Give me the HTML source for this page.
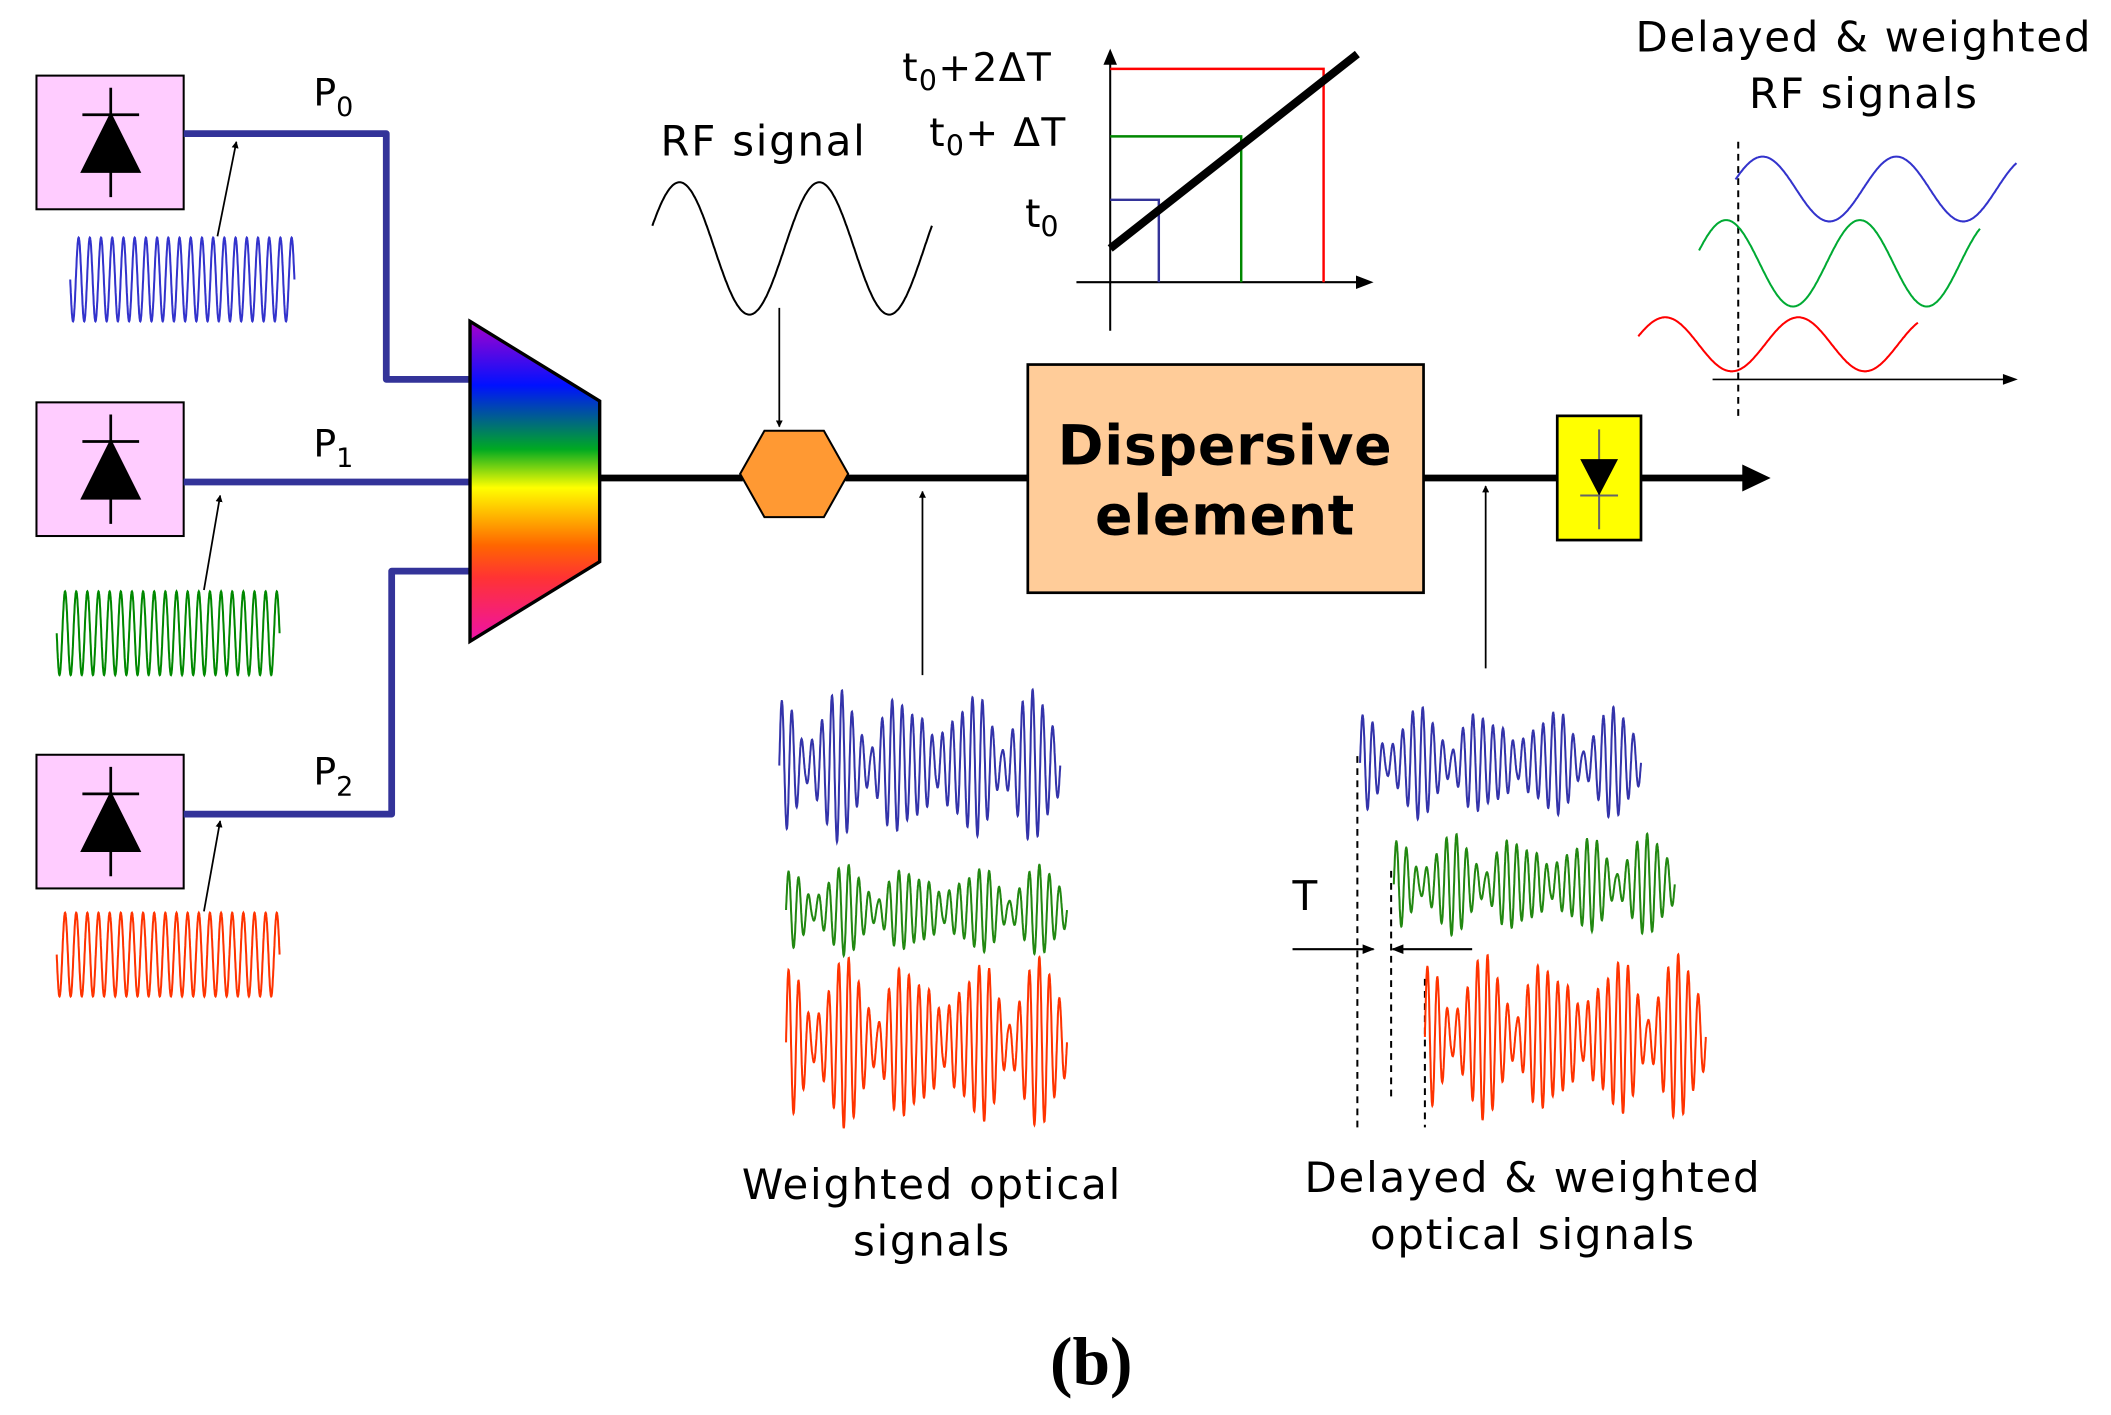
<!DOCTYPE html>
<html><head><meta charset="utf-8"><style>
html,body{margin:0;padding:0;background:#fff;}
svg{display:block;}
text{font-family:"DejaVu Sans","Liberation Sans",sans-serif;}
.l{font-size:31px;letter-spacing:1.3px;}
</style></head><body>
<svg id="s" width="2111" height="1415" viewBox="0 0 1563 1048" preserveAspectRatio="none" xmlns="http://www.w3.org/2000/svg">
<defs>
<linearGradient id="rb" x1="0" y1="0" x2="0" y2="1">
<stop offset="0" stop-color="#aa00cc"/><stop offset="0.2" stop-color="#0011ff"/><stop offset="0.4" stop-color="#00aa22"/><stop offset="0.52" stop-color="#ffff00"/><stop offset="0.7" stop-color="#ff6600"/><stop offset="0.8" stop-color="#ff3333"/><stop offset="1" stop-color="#ee11aa"/>
</linearGradient>
<marker id="ah" viewBox="0 0 10 10" refX="9" refY="5" markerWidth="6" markerHeight="6" orient="auto"><path d="M0,1 L10,5 L0,9 z" fill="#000"/></marker>
<marker id="ah2" viewBox="0 0 10 10" refX="9" refY="5" markerWidth="4" markerHeight="4" orient="auto"><path d="M0,0 L10,5 L0,10 z" fill="#000"/></marker>
</defs>
<rect width="1563" height="1048" fill="#fff"/>
<g stroke="#000" stroke-width="1.5">
<rect x="27" y="56" width="109" height="99" fill="#ffccff"/>
<rect x="27" y="298" width="109" height="99" fill="#ffccff"/>
<rect x="27" y="559" width="109" height="99" fill="#ffccff"/>
</g>
<g id="diodes" stroke="#000" stroke-width="2"></g>
<g stroke="#333399" stroke-width="5" fill="none" stroke-linejoin="round">
<polyline points="136,99 286,99 286,281 348,281"/>
<line x1="136" y1="357" x2="348" y2="357"/>
<polyline points="136,603 290,603 290,423 348,423"/>
</g>
<text x="232" y="78" font-size="28">P<tspan font-size="20" dy="8">0</tspan></text>
<text x="232" y="338" font-size="28">P<tspan font-size="20" dy="8">1</tspan></text>
<text x="232" y="581" font-size="28">P<tspan font-size="20" dy="8">2</tspan></text>
<g stroke="#000" stroke-width="1.3" marker-end="url(#ah2)">
<line x1="161" y1="175" x2="175" y2="105"/>
<line x1="151" y1="437" x2="163" y2="367"/>
<line x1="151" y1="675" x2="163" y2="608"/>
</g>
<polygon points="348,238 444,297 444,416 348,475" fill="url(#rb)" stroke="#000" stroke-width="2.5"/>
<g stroke="#000" stroke-width="5">
<line x1="444" y1="354" x2="550" y2="354"/>
<line x1="626" y1="354" x2="762" y2="354"/>
<line x1="1054" y1="354" x2="1153" y2="354"/>
</g>
<polygon points="548,351 566,319 610,319 628,351 610,383 566,383" fill="#ff9933" stroke="#000" stroke-width="1.5"/>
<text x="489" y="115" class="l">RF signal</text>
<path id="rf" fill="none" stroke="#000" stroke-width="1.5"/>
<line x1="577" y1="228" x2="577" y2="316" stroke="#000" stroke-width="1.3" marker-end="url(#ah2)"/>
<line x1="683" y1="500" x2="683" y2="364" stroke="#000" stroke-width="1.3" marker-end="url(#ah2)"/>
<line x1="1100" y1="495" x2="1100" y2="360" stroke="#000" stroke-width="1.3" marker-end="url(#ah2)"/>
<rect x="761" y="270" width="293" height="169" fill="#ffcc99" stroke="#000" stroke-width="2"/>
<text x="907" y="344" font-size="41" font-weight="bold" text-anchor="middle" letter-spacing="0.5">Dispersive</text>
<text x="907" y="396" font-size="41" font-weight="bold" text-anchor="middle" letter-spacing="0.5">element</text>
<rect x="1153" y="308" width="62" height="92" fill="#ffff00" stroke="#000" stroke-width="2"/>
<line x1="1184" y1="318" x2="1184" y2="392" stroke="#666" stroke-width="1.5"/>
<line x1="1170" y1="367" x2="1198" y2="367" stroke="#666" stroke-width="1.5"/>
<polygon points="1170,340 1198,340 1184,367" fill="#000"/>
<line x1="1215" y1="354" x2="1295" y2="354" stroke="#000" stroke-width="5"/>
<polygon points="1290,344 1311,354 1290,364" fill="#000"/>
<g stroke="#000" stroke-width="1.5">
<line x1="822" y1="245" x2="822" y2="42"/>
<line x1="797" y1="209" x2="1012" y2="209"/>
</g>
<polygon points="817,48 822,36 827,48" fill="#000"/>
<polygon points="1004,204 1017,209 1004,214" fill="#000"/>
<g fill="none" stroke-width="1.8">
<polyline points="822,148 858,148 858,209" stroke="#333399"/>
<polyline points="822,101 919,101 919,209" stroke="#008800"/>
<polyline points="822,51 980,51 980,209" stroke="#ff0000"/>
</g>
<line x1="822" y1="184" x2="1005" y2="40" stroke="#000" stroke-width="6"/>
<text x="668" y="60" font-size="29" letter-spacing="1">t<tspan font-size="21" dy="7">0</tspan><tspan dy="-7">+2ΔT</tspan></text>
<text x="688" y="108" font-size="29" letter-spacing="1">t<tspan font-size="21" dy="7">0</tspan><tspan dy="-7">+ ΔT</tspan></text>
<text x="759" y="168" font-size="29">t<tspan font-size="21" dy="7">0</tspan></text>
<text x="1380" y="38" class="l" text-anchor="middle">Delayed &amp; weighted</text>
<text x="1380" y="80" class="l" text-anchor="middle">RF signals</text>
<line x1="1268" y1="281" x2="1488" y2="281" stroke="#000" stroke-width="1.2"/>
<polygon points="1483,277 1494,281 1483,285" fill="#000"/>
<line x1="1287" y1="105" x2="1287" y2="308" stroke="#000" stroke-width="1.5" stroke-dasharray="5,4"/>
<text x="957" y="674" font-size="30">T</text>
<g stroke="#000" stroke-width="1.5" stroke-dasharray="5,4">
<line x1="1005" y1="560" x2="1005" y2="835"/>
<line x1="1030" y1="645" x2="1030" y2="812"/>
<line x1="1055" y1="725" x2="1055" y2="835"/>
</g>
<g stroke="#000" stroke-width="1.5" marker-end="url(#ah)">
<line x1="957" y1="703" x2="1017" y2="703"/>
<line x1="1090" y1="703" x2="1031" y2="703"/>
</g>
<text x="690" y="888" class="l" text-anchor="middle">Weighted optical</text>
<text x="690" y="930" class="l" text-anchor="middle">signals</text>
<text x="1135" y="883" class="l" text-anchor="middle">Delayed &amp; weighted</text>
<text x="1135" y="925" class="l" text-anchor="middle">optical signals</text>
<text x="808" y="1025" font-size="50" font-weight="bold" text-anchor="middle" style="font-family:'Liberation Serif',serif">(b)</text>
<g id="waves" fill="none" stroke-width="1.5"></g>
</svg>
<script>
var NS="http://www.w3.org/2000/svg";
var w=document.getElementById("waves"),dg=document.getElementById("diodes");
function add(g,tag,attrs){var e=document.createElementNS(NS,tag);for(var k in attrs)e.setAttribute(k,attrs[k]);g.appendChild(e);return e;}
[56,298,559].forEach(function(y){
 var c=82;
 add(dg,"line",{x1:c,y1:y+9,x2:c,y2:y+90});
 add(dg,"line",{x1:c-21,y1:y+29,x2:c+21,y2:y+29});
 add(dg,"polygon",{points:(c)+","+(y+29)+" "+(c-21)+","+(y+71)+" "+(c+21)+","+(y+71),fill:"#000"});
});
function path(x0,x1,f,n){var d="";for(var i=0;i<=n;i++){var t=i/n,x=x0+(x1-x0)*t;d+=(i?"L":"M")+x.toFixed(1)+","+f(t).toFixed(1);}return d;}
function P(d,c){add(w,"path",{d:d,stroke:c});}
P(path(52,218,function(t){return 207+31*Math.sin(t*2*Math.PI*20);},1200),"#3333cc");
P(path(42,207,function(t){return 469+31*Math.sin(t*2*Math.PI*20);},1200),"#008800");
P(path(42,207,function(t){return 707+31*Math.sin(t*2*Math.PI*20);},1200),"#ff3300");
document.getElementById("rf").setAttribute("d",path(483,690,function(t){return 184-49*Math.sin(t*2*Math.PI*2+0.35);},400));
P(path(1285,1493,function(t){return 140-24*Math.sin(t*2*Math.PI*2.1+0.3);},400),"#3333cc");
P(path(1258,1466,function(t){return 195-32*Math.sin(t*2*Math.PI*2.1+0.3);},400),"#00aa33");
P(path(1213,1420,function(t){return 255-20*Math.sin(t*2*Math.PI*2.1+0.3);},400),"#ff0000");
function mod(x0,cy,amp,c){P(path(x0,x0+208,function(t){var e=0.25+0.75*Math.abs(Math.cos(t*Math.PI*4.3+0.3));return cy-amp*e*Math.sin(t*2*Math.PI*28)*(0.85+0.15*Math.sin(t*37));},1500),c);}
mod(577,567,57,"#3333aa");mod(582,674,34,"#228811");mod(582,772,64,"#ff3300");
mod(1007,565,42,"#3333aa");mod(1032,655,38,"#228811");mod(1055,768,62,"#ff3300");
</script>
</body></html>
